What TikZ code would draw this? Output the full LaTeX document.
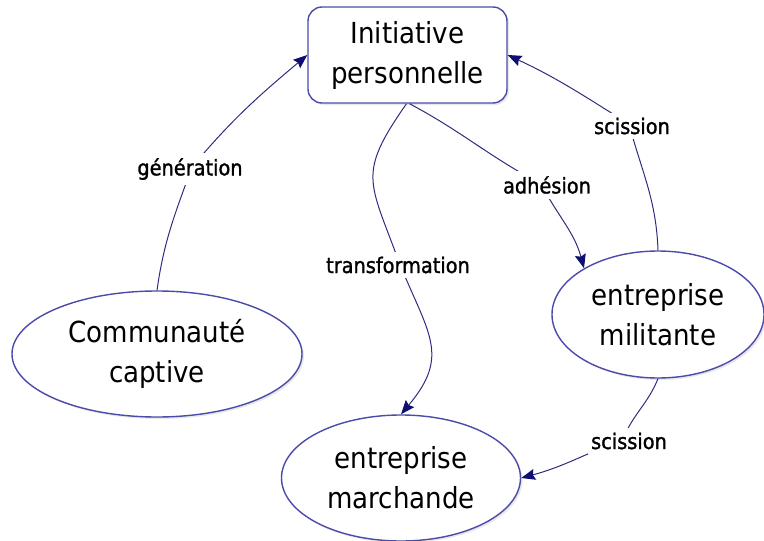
\documentclass[tikz,border=0pt]{standalone}
\usepackage{fontspec}
\setmainfont{DejaVu Sans Condensed}
\newfontfamily\lblfam{DejaVu Sans Condensed}[FakeBold=1.3]
\usetikzlibrary{shapes.geometric,arrows.meta,shadows}
\definecolor{nodeblue}{RGB}{75,75,170}
\definecolor{edgeblue}{RGB}{45,45,125}
\definecolor{tipblue}{RGB}{15,15,115}
\newcommand{\nodefnt}{\fontsize{29}{40}\selectfont}
\newcommand{\lblfnt}{\lblfam\fontsize{21.5}{26}\selectfont}
\tikzset{
  boxnode/.style={draw=nodeblue, line width=1.4pt, rounded corners=14pt, fill=white,
    minimum width=199pt, minimum height=96pt, align=center, font=\nodefnt,
    drop shadow={shadow xshift=2pt, shadow yshift=-2pt, opacity=0.18, fill=gray}},
  ovalnode/.style={ellipse, draw=nodeblue, line width=1.4pt, fill=white, inner sep=0pt,
    align=center, font=\nodefnt,
    drop shadow={shadow xshift=2pt, shadow yshift=-2pt, opacity=0.18, fill=gray}},
  lbl/.style={fill=white, inner xsep=3pt, inner ysep=5pt, font=\lblfnt},
  edge/.style={draw=edgeblue, line width=1pt,
    -{Stealth[length=14pt, width=11pt, inset=2pt, color=tipblue]}}
}
\begin{document}
\begin{tikzpicture}[x=1pt, y=-1pt]
\useasboundingbox (0,0) rectangle (764,541);
% nodes
\node[boxnode] (init) at (407.5,55) {Initiative\\personnelle};
\node[ovalnode, minimum width=290pt, minimum height=126pt] (comm) at (157,354) {Communauté\\captive};
\node[ovalnode, minimum width=212pt, minimum height=127pt] (mil) at (658,314.5) {entreprise\\militante};
\node[ovalnode, minimum width=239pt, minimum height=126pt] (march) at (401,478) {entreprise\\marchande};
% via points
\coordinate (cgen) at (192,167);
\coordinate (csca) at (629,124);
\coordinate (cadh) at (541,184);
\coordinate (ctra) at (399,262);
\coordinate (cscb) at (623,439);
% connectors
\draw[edge] (comm.north) to[out=82,in=250] (cgen) to[out=50,in=220] (init.west);
\draw[edge] (mil.north) to[out=92,in=-75] (csca) to[out=148,in=-25] (init.east);
\draw[edge] ([xshift=2pt]init.south) to[out=-28,in=152] (cadh) to[out=-62,in=105] (mil.148);
\draw[edge] ([xshift=-1pt]init.south) to[out=235,in=110,looseness=1.4] (ctra) to[out=-68,in=50,looseness=1.3] (march.north);
\draw[edge] (mil.south) to[out=-112,in=68] (cscb) to[out=-158,in=15] (march.east);
% labels
\node[lbl] (lgen) at (190,169) {génération};
\node[lbl] (lsca) at (632,126) {scission};
\node[lbl] (ladh) at (547,185) {adhésion};
\node[lbl] (ltra) at (398,265) {transformation};
\node[lbl] (lscb) at (629,441) {scission};
\end{tikzpicture}
\end{document}
